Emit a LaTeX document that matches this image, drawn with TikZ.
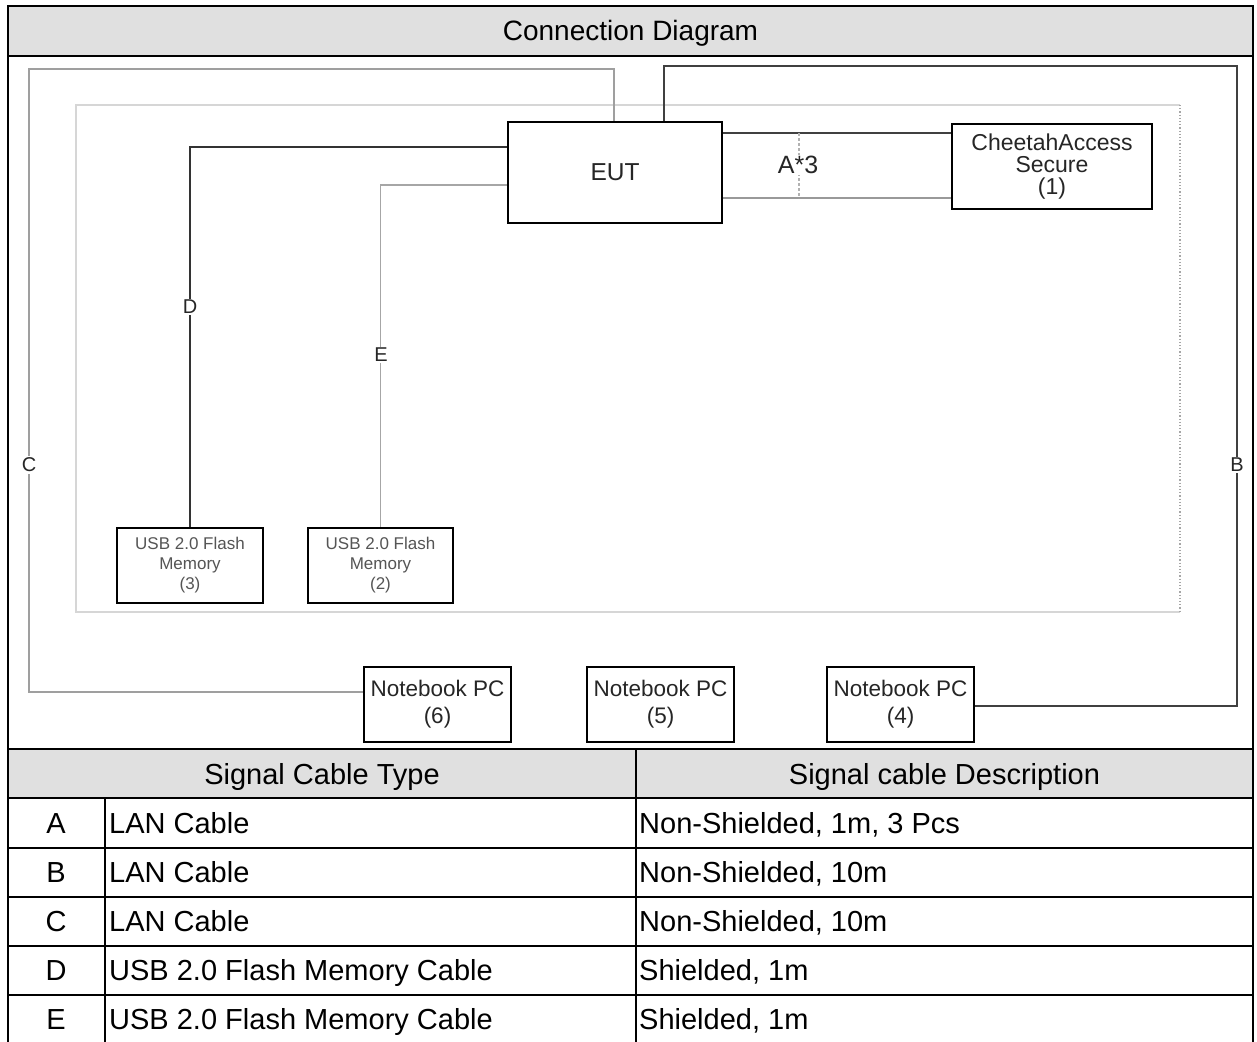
\documentclass[tikz,border=0pt]{standalone}
\usepackage{fontspec}
\setmainfont{Liberation Sans}
\newcommand\fsz[2]{\fontsize{#1pt}{#2pt}\selectfont}
\definecolor{hdrgray}{HTML}{E0E0E0}
\definecolor{innergray}{HTML}{D6D6D6}
\definecolor{boxtext}{HTML}{262626}
\definecolor{usbtext}{HTML}{555555}
\begin{document}
\begin{tikzpicture}[x=1pt,y=-1pt,
  devbox/.style={draw=black,line width=2.2pt,fill=white,inner sep=0pt,align=center,text=boxtext},
  cable/.style={line width=1.8pt},
  cablelabel/.style={fill=white,inner sep=1.5pt,text=boxtext,font=\fsz{20}{22}},
  cell/.style={inner sep=0pt,font=\fsz{29}{32},text=black,anchor=base},
  lcell/.style={cell,anchor=base west},
  frame/.style={line width=2.4pt,draw=black}]
\useasboundingbox (0,0) rectangle (1257,1041);
\fill[white] (0,0) rectangle (1257,1041);

% header bands
\fill[hdrgray] (8,6) rectangle (1253,56);
\fill[hdrgray] (8,749) rectangle (1253,798);

% inner area rectangle
\draw[innergray,line width=2.6pt] (1180,105) -- (76,105) -- (76,612) -- (1180,612);
\draw[gray!70,line width=1.2pt,dotted] (1180,105) -- (1180,612);

% device nodes
\node[devbox,minimum width=214pt,minimum height=101pt,font=\fsz{24.5}{27}] (eut) at (615,172.5) {EUT};
\node[devbox,minimum width=200pt,minimum height=85pt,font=\fsz{23}{21.8}] (chee) at (1052,166.5) {CheetahAccess\\Secure\\(1)};
\node[devbox,minimum width=146pt,minimum height=75pt,font=\fsz{17}{20},text=usbtext] (usb3) at (190,565.5) {USB 2.0 Flash\\Memory\\(3)};
\node[devbox,minimum width=145pt,minimum height=75pt,font=\fsz{17}{20},text=usbtext] (usb2) at (380.5,565.5) {USB 2.0 Flash\\Memory\\(2)};
\node[devbox,minimum width=147pt,minimum height=75pt,font=\fsz{22.5}{27}] (nb6) at (437.5,704.5) {Notebook PC\\(6)};
\node[devbox,minimum width=147pt,minimum height=75pt,font=\fsz{22.5}{27}] (nb5) at (660.5,704.5) {Notebook PC\\(5)};
\node[devbox,minimum width=147pt,minimum height=75pt,font=\fsz{22.5}{27}] (nb4) at (900.5,704.5) {Notebook PC\\(4)};

% cable corner coordinates
\coordinate (cbl) at (29,692);
\coordinate (ctl) at (29,69);
\coordinate (ctr) at (614,69);
\coordinate (bbr) at (1237,706);
\coordinate (btr) at (1237,66);
\coordinate (btl) at (664,66);

% C cable
\draw[cable,gray!75] ([yshift=12.5pt]nb6.west) -- (cbl) -- (ctl) -- (ctr) -- (ctr |- eut.north);
% B cable
\draw[cable,black!75] ([yshift=-1.5pt]nb4.east) -- (bbr) -- (btr) -- (btl) -- (btl |- eut.north);
% D cable
\draw[cable,black!80] ([yshift=25.5pt]eut.west) -| (usb3.north);
% E cable
\draw[cable,gray!70] ([yshift=-12.5pt]eut.west) -| (usb2.north);
% A cables
\draw[cable,black!75] ([yshift=39.5pt]eut.east) -- (chee.west |- 0,133);
\draw[cable,gray!80] ([yshift=-25.5pt]eut.east) -- (chee.west |- 0,198);
\coordinate (atop) at (799,133);
\coordinate (abot) at (799,198);
\draw[gray!60,line width=1.3pt,dash pattern=on 3pt off 2pt] (atop) -- (abot);

% cable labels
\node[cablelabel,font=\fsz{25}{27}] (la3) at (798,165) {A*3};
\node[cablelabel] (ld) at (190,307) {D};
\node[cablelabel] (le) at (381,355) {E};
\node[cablelabel] (lc) at (29,465) {C};
\node[cablelabel] (lb) at (1237,465) {B};

% title
\node[cell,font=\fsz{28}{31}] (title) at (630.5,41) {Connection Diagram};

% table
\node[cell] (th1) at (322,784) {Signal Cable Type};
\node[cell] (th2) at (944.5,784) {Signal cable Description};

\node[cell] (ka) at (56,833.5) {A};
\node[cell] (kb) at (56,882.5) {B};
\node[cell] (kc) at (56,931.5) {C};
\node[cell] (kd) at (56,980.5) {D};
\node[cell] (ke) at (56,1029.5) {E};

\node[lcell] (ta) at (109,833.5) {LAN Cable};
\node[lcell] (tb) at (109,882.5) {LAN Cable};
\node[lcell] (tc) at (109,931.5) {LAN Cable};
\node[lcell] (td) at (109,980.5) {USB 2.0 Flash Memory Cable};
\node[lcell] (te) at (109,1029.5) {USB 2.0 Flash Memory Cable};

\node[lcell] (da) at (639,833.5) {Non-Shielded, 1m, 3 Pcs};
\node[lcell] (db) at (639,882.5) {Non-Shielded, 10m};
\node[lcell] (dc) at (639,931.5) {Non-Shielded, 10m};
\node[lcell] (dd) at (639,980.5) {Shielded, 1m};
\node[lcell] (de) at (639,1029.5) {Shielded, 1m};

% table and frame lines
\draw[frame] (8,6) rectangle (1253,1050);
\draw[frame] (8,56) -- (1253,56);
\draw[frame] (8,749) -- (1253,749);
\foreach \yy in {798,848,897,946,995} \draw[frame] (8,\yy) -- (1253,\yy);
\draw[frame] (636,749) -- (636,1050);
\draw[frame] (105,798) -- (105,1050);
\end{tikzpicture}
\end{document}
